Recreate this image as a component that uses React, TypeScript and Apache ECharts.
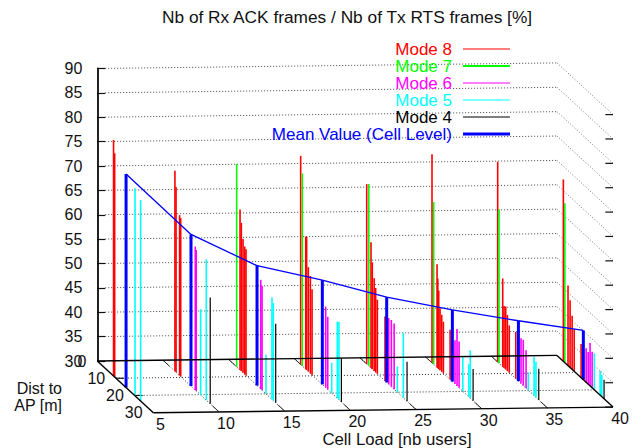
import React, { useEffect, useRef } from "react";
import * as echarts from "echarts";

const zTicks = [30, 35, 40, 45, 50, 55, 60, 65, 70, 75, 80, 85, 90];
const loadTicks = [5, 10, 15, 20, 25, 30, 35, 40];
const distTicks = [0, 10, 20, 30];

// [cell load, distance to AP, value]
const mode8 = [
  [5, 8.7, 78.4], [5, 9.3, 75.9],
  [10, 6.4, 71.1], [10, 7, 68], [10, 8.9, 62.9], [10, 9.5, 62.5],
  [15, 6.1, 62.9], [15, 6.8, 60.4], [15, 7.7, 57.4], [15, 8.6, 56.2], [15, 9.3, 55.9],
  [20, 3.4, 72.8], [20, 6.1, 57.2], [20, 6.6, 57.3], [20, 7.5, 51.4], [20, 8.6, 50], [20, 9.5, 47.6],
  [25, 3.6, 66.9], [25, 5.9, 55.8], [25, 6.6, 51.9], [25, 7.6, 49], [25, 8.4, 47.3], [25, 9.3, 45.2], [25, 13.4, 43.2],
  [30, 3.4, 72.8], [30, 6.1, 51.2], [30, 6.5, 48.4], [30, 7, 46.1], [30, 7.7, 42.7], [30, 8.6, 41.7], [30, 9.5, 40.6], [30, 13.1, 40.2],
  [35, 3.4, 71.1], [35, 6.1, 48.1], [35, 6.8, 42.7], [35, 7.7, 42.9], [35, 8.6, 41.5], [35, 9.6, 39.7], [35, 13.1, 39.6],
  [40, 3.4, 67.3], [40, 5.9, 46.4], [40, 7, 43.8], [40, 8.1, 41], [40, 9.2, 38.6], [40, 12.9, 36.9],
];
const mode7 = [
  [15, 4.3, 71.6], [20, 4.3, 69.5], [25, 4.7, 67.3], [30, 4.3, 63.3], [35, 4.1, 61.6], [40, 4.2, 62.7],
];
const mode6 = [
  [10, 17.3, 59.4], [10, 17.8, 58.9],
  [15, 17.2, 52.4], [15, 17.9, 51.4],
  [20, 16.8, 46.6], [20, 17.9, 44.9],
  [25, 15.4, 43.6], [25, 16.8, 43.7], [25, 18.3, 43.5],
  [30, 15.7, 39], [30, 16.8, 41.7], [30, 17.9, 39.5],
  [35, 15.9, 39.3], [35, 17.1, 39.4], [35, 18.6, 37.8],
  [40, 15.6, 37], [40, 16.7, 36.6], [40, 17.7, 38.8], [40, 18.8, 37.4],
];
const mode5 = [
  [5, 20.2, 72.6], [5, 23.2, 71.2],
  [10, 20.2, 47.6], [10, 23.2, 58.9],
  [15, 20, 38], [15, 23.2, 50.9], [15, 23.9, 50],
  [20, 20, 36.2], [20, 23, 45.7], [20, 23.9, 46],
  [25, 20, 35.3], [25, 23.2, 43.3],
  [30, 19.9, 37], [30, 23.1, 36.7], [30, 23.9, 39.8],
  [35, 19.8, 33.7], [35, 22.9, 38], [35, 23.9, 37.3],
  [40, 20, 37.5], [40, 23.1, 35], [40, 24, 34.5],
];
const mode4 = [
  [10, 25.3, 51.8], [15, 25.2, 46.2], [20, 25.2, 39], [25, 25.2, 38.1],
  [30, 25.4, 36.5], [35, 25.4, 36.4], [40, 25.2, 33.9],
];
const meanValue = [
  [5, 15.4, 73.8], [10, 15, 61.1], [15, 15.2, 54.6], [20, 15, 51.4],
  [25, 14.3, 47.5], [30, 14.3, 44.7], [35, 14.5, 42.4], [40, 14.1, 40.1],
];

const FONT = "Liberation Sans";
const MIN_LOAD = 5;
const MAX_LOAD = 40;
const MAX_DIST = 30;
const FLOOR = 30;

// Oblique projection of (load, dist, z) into the chart's two value axes.
const X_PER_DIST = 0.1422;
const Z_PER_DIST = 0.3534;
const Z_PER_LOAD = 0.0328;
const project = (api: any, load: number, dist: number, z: number) =>
  api.coord([
    load + dist * X_PER_DIST,
    z + (load - MIN_LOAD) * Z_PER_LOAD - dist * Z_PER_DIST,
  ]);

const impulses = (name: string, data: number[][], color: string, width: number, z: number) => ({
  type: "custom",
  name,
  z,
  silent: true,
  itemStyle: { color },
  data,
  renderItem: (_: any, api: any) => {
    const load = api.value(0);
    const dist = api.value(1);
    const [x1, y1] = project(api, load, dist, FLOOR);
    const [x2, y2] = project(api, load, dist, api.value(2));
    return {
      type: "line",
      shape: { x1, y1, x2, y2 },
      style: { stroke: color, lineWidth: width, fill: null },
    };
  },
});

const seg = (p: number[], q: number[], stroke: string, lineWidth: number, dash?: number[]) => ({
  type: "line",
  shape: { x1: p[0], y1: p[1], x2: q[0], y2: q[1] },
  style: { stroke, lineWidth, lineDash: dash, fill: null },
});

const DOT = [1, 2];
const GRID_COLOR = "#444";

const legendIcon = (t: number) =>
  `path://M0 0L47 0ZM0 ${8 - t / 2}H47V${8 + t / 2}H0ZM0 16L47 16Z`;

const legendEntry = (name: string, color: string, t: number) => ({
  name,
  icon: legendIcon(t),
  itemStyle: { color, borderWidth: 0 },
  textStyle: { color },
});

export default function App() {
  const ref = useRef<HTMLDivElement>(null);
  useEffect(() => {
    const chart = echarts.init(ref.current!, undefined, { renderer: "svg" });
    chart.setOption({
      animation: false,
      backgroundColor: "#fff",
      title: {
        text: "Nb of Rx ACK frames / Nb of Tx RTS frames [%]",
        left: 162,
        top: 8,
        padding: 0,
        textStyle: { fontFamily: FONT, fontSize: 17.3, fontWeight: "normal", color: "#111" },
      },
      legend: {
        orient: "vertical",
        align: "right",
        right: 131,
        top: 40.5,
        padding: 0,
        itemWidth: 47,
        itemHeight: 16,
        itemGap: 0,
        selectedMode: false,
        textStyle: { fontFamily: FONT, fontSize: 17, lineHeight: 16, padding: [0, 6, 0, 0] },
        data: [
          legendEntry("Mode 8", "#ff0000", 1.2),
          legendEntry("Mode 7", "#00ff00", 2),
          legendEntry("Mode 6", "#ff00ff", 1.2),
          legendEntry("Mode 5", "#00ffff", 1.2),
          legendEntry("Mode 4", "#000000", 1.2),
          legendEntry("Mean Value (Cell Level)", "#0000ff", 3),
        ],
      },
      grid: { left: 97.3, right: 84, top: 68.5, bottom: 87, containLabel: false },
      xAxis: { type: "value", min: MIN_LOAD, max: MAX_LOAD, show: false },
      yAxis: {
        type: "value",
        min: 30,
        max: 90,
        interval: 5,
        axisLine: { show: true, onZero: false, lineStyle: { color: "#222", width: 2 } },
        axisTick: { show: true, inside: true, length: 8, lineStyle: { color: "#111", width: 1.2 } },
        axisLabel: { margin: 15, fontFamily: FONT, fontSize: 16, color: "#111" },
        splitLine: { show: false },
      },
      graphic: [
        { type: "text", x: 62, y: 388, style: { text: "Dist to", align: "right", verticalAlign: "middle", font: `16px "${FONT}"`, fill: "#111" } },
        { type: "text", x: 62, y: 405, style: { text: "AP [m]", align: "right", verticalAlign: "middle", font: `16px "${FONT}"`, fill: "#111" } },
        { type: "text", x: 397, y: 439, style: { text: "Cell Load [nb users]", align: "center", verticalAlign: "middle", font: `16.8px "${FONT}"`, fill: "#111" } },
      ],
      series: [
        {
          type: "custom",
          name: "Wall grid",
          z: 1,
          silent: true,
          data: zTicks.map((v) => [v]),
          renderItem: (_: any, api: any) => {
            const z = api.value(0);
            const children: any[] = [];
            const back = project(api, MAX_LOAD, 0, z);
            if (z !== FLOOR) {
              children.push(seg(project(api, MIN_LOAD + 0.6, 0, z), back, GRID_COLOR, 1, DOT));
              children.push(seg(back, project(api, MAX_LOAD, MAX_DIST, z), "#777", 1, DOT));
            }
            const front = project(api, MAX_LOAD, MAX_DIST, z);
            children.push(seg([front[0] - 7.7, front[1]], front, "#111", 1.2));
            return { type: "group", children };
          },
        },
        {
          type: "custom",
          name: "Load grid",
          z: 1,
          silent: true,
          data: loadTicks.map((v) => [v]),
          renderItem: (_: any, api: any) => {
            const load = api.value(0);
            const children: any[] = [];
            const p = project(api, load, 0, FLOOR);
            const q = project(api, load, MAX_DIST, FLOOR);
            if (load !== MIN_LOAD && load !== MAX_LOAD) {
              children.push(seg(p, q, "#333", 1, DOT));
              children.push(seg(project(api, load, 0, FLOOR), project(api, load, 3.5, FLOOR), "#222", 1));
              children.push(seg(project(api, load, MAX_DIST - 3.5, FLOOR), q, "#222", 1));
            }
            children.push({
              type: "text",
              x: q[0] + 7,
              y: q[1] + 11.5,
              style: { text: String(load), font: `16px "${FONT}"`, fill: "#111", align: "center", verticalAlign: "middle" },
            });
            return { type: "group", children };
          },
        },
        {
          type: "custom",
          name: "Dist grid",
          z: 1,
          silent: true,
          data: distTicks.map((v) => [v]),
          renderItem: (_: any, api: any) => {
            const dist = api.value(0);
            const children: any[] = [];
            const p = project(api, MIN_LOAD, dist, FLOOR);
            const q = project(api, MAX_LOAD, dist, FLOOR);
            if (dist !== 0 && dist !== MAX_DIST) {
              children.push(seg(p, q, "#333", 1, DOT));
              children.push(seg(p, [p[0] + 8, p[1]], "#111", 1.2));
            }
            children.push({
              type: "text",
              x: p[0] - 10.8,
              y: p[1],
              style: { text: String(dist), font: `16px "${FONT}"`, fill: "#111", align: "right", verticalAlign: "middle" },
            });
            return { type: "group", children };
          },
        },
        impulses("Mode 8", mode8, "#ff0000", 1.6, 3),
        impulses("Mode 7", mode7, "#00ff00", 1.6, 3),
        impulses("Mode 6", mode6, "#ff00ff", 1.6, 3),
        impulses("Mode 5", mode5, "#00ffff", 1.6, 3),
        impulses("Mode 4", mode4, "#000000", 1.2, 3),
        {
          type: "custom",
          name: "Mean Value (Cell Level)",
          z: 4,
          silent: true,
          itemStyle: { color: "#0000ff" },
          data: meanValue,
          renderItem: (params: any, api: any) => {
            const load = api.value(0);
            const dist = api.value(1);
            const top = project(api, load, dist, api.value(2));
            const children: any[] = [seg(project(api, load, dist, FLOOR), top, "#0000ff", 3)];
            const next = meanValue[params.dataIndex + 1];
            if (next) {
              children.push(seg(top, project(api, next[0], next[1], next[2]), "#0000ff", 1.3));
            }
            return { type: "group", children };
          },
        },
        {
          type: "custom",
          name: "Floor border",
          z: 5,
          silent: true,
          data: [[MIN_LOAD, 0, MAX_LOAD, 0], [MIN_LOAD, MAX_DIST, MAX_LOAD, MAX_DIST], [MIN_LOAD, 0, MIN_LOAD, MAX_DIST], [MAX_LOAD, 0, MAX_LOAD, MAX_DIST]],
          renderItem: (_: any, api: any) =>
            seg(
              project(api, api.value(0), api.value(1), FLOOR),
              project(api, api.value(2), api.value(3), FLOOR),
              "#000",
              1.4,
            ),
        },
      ],
    });
    return () => chart.dispose();
  }, []);
  return <div ref={ref} style={{ position: "absolute", left: 0, top: 0, width: 641, height: 448 }} />;
}
